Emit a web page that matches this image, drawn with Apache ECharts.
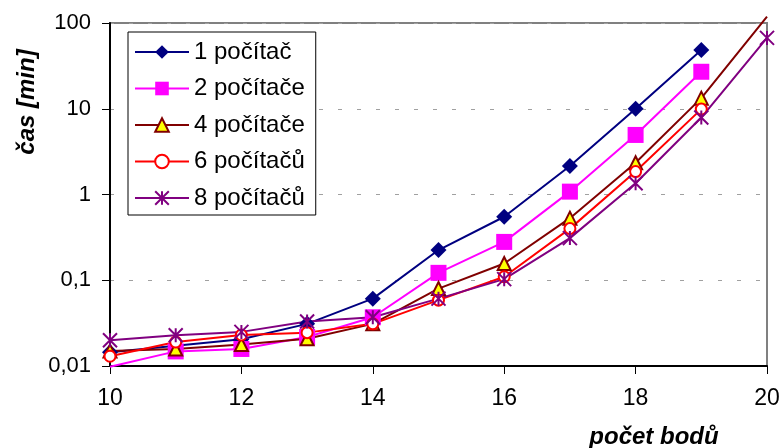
<!DOCTYPE html>
<html>
<head>
<meta charset="utf-8">
<script src="https://cdn.jsdelivr.net/npm/echarts@6/dist/echarts.min.js"></script>
<style>
  html, body { margin: 0; padding: 0; background: #fff; }
  #chart { width: 783px; height: 448px; }
</style>
</head>
<body>
<div id="chart"></div>
<script>
// Number of points (x) and measured run time in minutes for each cluster size
const pointCounts = [10, 11, 12, 13, 14, 15, 16, 17, 18, 19, 20];
const seriesNames = ['1 počítač', '2 počítače', '4 počítače', '6 počítačů', '8 počítačů'];
const time1 = [0.0145, 0.0172, 0.0205, 0.031, 0.061, 0.225, 0.55, 2.15, 10.0, 48.5];
const time2 = [0.0098, 0.0148, 0.0158, 0.0218, 0.037, 0.122, 0.28, 1.08, 4.95, 27];
const time4 = [0.015, 0.0158, 0.0178, 0.0208, 0.031, 0.080, 0.157, 0.53, 2.35, 13.3, 119];
const time6 = [0.013, 0.019, 0.023, 0.0245, 0.031, 0.0586, 0.11, 0.40, 1.85, 9.9];
const time8 = [0.020, 0.0228, 0.025, 0.033, 0.037, 0.061, 0.103, 0.31, 1.35, 7.9, 67];
const yTickLabels = ['0,01', '0,1', '1', '10', '100'];
const xAxisTitle = 'počet bodů';
const yAxisTitle = 'čas [min]';

const Y_MIN = 0.01, Y_MAX = 100;
const FONT = '"Liberation Sans", Arial, sans-serif';

// Markers are only drawn for points that lie inside the value range
function toPoints(values) {
  return values.map((v, i) => {
    const item = { value: [pointCounts[i], v] };
    if (v < Y_MIN || v > Y_MAX) item.symbol = 'none';
    return item;
  });
}

const styles = [
  { color: '#000080', symbol: 'diamond', symbolSize: 16,
    itemStyle: { color: '#000080' } },
  { color: '#ff00ff', symbol: 'rect', symbolSize: 16,
    itemStyle: { color: '#ff00ff' } },
  { color: '#800000', symbol: 'triangle', symbolSize: [13, 13],
    itemStyle: { color: '#ffff00', borderColor: '#800000', borderWidth: 2 } },
  { color: '#ff0000', symbol: 'circle', symbolSize: 11,
    itemStyle: { color: '#ffffff', borderColor: '#ff0000', borderWidth: 2 } },
  { color: '#800080', symbol: 'path://M0,0L12,12M12,0L0,12M6,0L6,12', symbolSize: 14,
    itemStyle: { color: 'rgba(0,0,0,0)', borderColor: '#800080', borderWidth: 2 } }
];

const allTimes = [time1, time2, time4, time6, time8];

const series = allTimes.map((vals, k) => ({
  name: seriesNames[k],
  type: 'line',
  data: toPoints(vals),
  symbol: styles[k].symbol,
  symbolSize: styles[k].symbolSize,
  showAllSymbol: true,
  clip: false,
  lineStyle: { color: styles[k].color, width: 2 },
  itemStyle: styles[k].itemStyle,
  emphasis: { disabled: true },
  animation: false
}));

const chart = echarts.init(document.getElementById('chart'), null, { renderer: 'canvas' });
chart.setOption({
  backgroundColor: '#ffffff',
  animation: false,
  grid: {
    left: 110, right: 16, top: 23, bottom: 82,
    show: true, borderColor: '#808080', borderWidth: 2, backgroundColor: 'transparent'
  },
  legend: {
    orient: 'vertical',
    left: 128, top: 32,
    itemWidth: 54, itemHeight: 17, itemGap: 12.5,
    padding: [8, 11, 5, 6],
    borderColor: '#000', borderWidth: 1, backgroundColor: '#fff',
    selectedMode: false,
    textStyle: { fontFamily: FONT, fontSize: 24, color: '#000', lineHeight: 23 },
    data: seriesNames
  },
  xAxis: {
    type: 'value', min: 10, max: 20, interval: 2,
    axisLine: { show: true, lineStyle: { color: '#000', width: 2 } },
    axisTick: { show: true, inside: false, length: 8, lineStyle: { color: '#000', width: 1 } },
    axisLabel: { fontFamily: FONT, fontSize: 23, color: '#000', margin: 21 },
    splitLine: { show: false }
  },
  yAxis: {
    type: 'log', logBase: 10, min: Y_MIN, max: Y_MAX, interval: 1,
    axisLine: { show: true, lineStyle: { color: '#000', width: 2 } },
    axisTick: { show: true, inside: false, length: 8, lineStyle: { color: '#000', width: 1 } },
    axisLabel: {
      fontFamily: FONT, fontSize: 22, color: '#000', margin: 19,
      formatter: v => yTickLabels[Math.round(Math.log10(v)) + 2]
    },
    splitLine: { show: true, lineStyle: { color: '#a0a0a0', width: 1, type: [4, 15] } }
  },
  graphic: [
    { type: 'text', x: 654, y: 437, style: {
        text: xAxisTitle, font: 'italic bold 24px ' + FONT, fill: '#000',
        align: 'center', verticalAlign: 'middle' } },
    { type: 'text', x: 27, y: 102, rotation: Math.PI / 2, style: {
        text: yAxisTitle, font: 'italic bold 24px ' + FONT, fill: '#000',
        align: 'center', verticalAlign: 'middle' } }
  ],
  series: series
});
</script>
</body>
</html>
